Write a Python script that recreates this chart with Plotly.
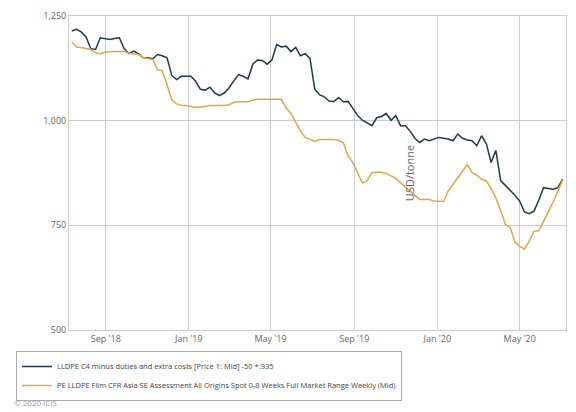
import pandas as pd
import plotly.graph_objects as go

# weekly price series, USD/tonne
dates = pd.date_range("2018-07-13", periods=104, freq="7D")

lldpe_c4 = [
    1214, 1218, 1212, 1200, 1172, 1170, 1198, 1196, 1194, 1196,
    1198, 1172, 1160, 1166, 1160, 1150, 1150, 1148, 1158, 1155,
    1150, 1108, 1098, 1106, 1106, 1106, 1094, 1075, 1073, 1080,
    1066, 1060, 1066, 1078, 1095, 1110, 1106, 1100, 1135, 1145,
    1144, 1135, 1145, 1182, 1176, 1178, 1165, 1175, 1155, 1160,
    1148, 1075, 1062, 1057, 1047, 1046, 1055, 1045, 1046, 1030,
    1012, 1001, 994, 988, 1007, 1010, 1017, 1001, 1012, 988,
    988, 975, 958, 948, 956, 952, 956, 960, 958, 956,
    952, 968, 958, 954, 952, 940, 964, 945, 900, 929,
    857, 845, 835, 822, 808, 782, 778, 784, 810, 840,
    838, 836, 840, 860,
]

pe_lldpe_film = [
    1188, 1176, 1175, 1173, 1170, 1162, 1160, 1164, 1165, 1165,
    1165, 1165, 1161, 1160, 1158, 1151, 1149, 1146, 1122, 1119,
    1085, 1050, 1040, 1037, 1036, 1034, 1032, 1032, 1034, 1036,
    1036, 1036, 1036, 1038, 1044, 1045, 1045, 1045, 1049, 1051,
    1051, 1051, 1051, 1051, 1051, 1030, 1018, 996, 975, 960,
    955, 951, 955, 955, 955, 955, 953, 947, 915, 900,
    875, 851, 857, 876, 877, 877, 874, 868, 862, 852,
    842, 832, 820, 812, 812, 812, 808, 807, 807, 832,
    848, 862, 878, 895, 876, 870, 860, 856, 838, 815,
    785, 752, 745, 710, 700, 693, 712, 736, 737, 758,
    782, 805, 830, 858,
]

names = [
    "LLDPE C4 minus duties and extra costs [Price 1: Mid] -50 *.935",
    "PE LLDPE Film CFR Asia SE Assessment All Origins Spot 0-8 Weeks Full Market Range Weekly (Mid)",
]

fig = go.Figure()
fig.add_trace(go.Scatter(x=dates, y=lldpe_c4, mode="lines", name=names[0],
                         line=dict(color="#1f3a44", width=1.5)))
fig.add_trace(go.Scatter(x=dates, y=pe_lldpe_film, mode="lines", name=names[1],
                         line=dict(color="#e0a64a", width=1.5)))

fig.update_layout(
    width=576, height=412,
    margin=dict(l=61, r=18, t=8, b=90, autoexpand=False),
    paper_bgcolor="white", plot_bgcolor="white",
    font=dict(family="Open Sans", size=9, color="#666"),
    showlegend=True,
    legend=dict(x=8 / 576, y=1 - 343 / 412, xref="container", yref="container",
                xanchor="left", yanchor="top",
                bordercolor="#aaa", borderwidth=1, font=dict(size=7.5, color="#444"),
                tracegroupgap=0, itemwidth=30),
    annotations=[dict(text="© 2020 ICIS", x=4 / 576, y=1 - 402 / 412,
                      xref="paper", yref="paper", showarrow=False,
                      xanchor="left", yanchor="bottom",
                      font=dict(size=8, color="#999"))],
)
# annotation placed in container coords
fig.layout.annotations[0].update(xref="paper", yref="paper",
                                 x=(4 - 61) / (576 - 79), y=(322 - 402) / 314)
fig.update_xaxes(
    range=["2018-07-09", "2020-07-08"], dtick="M4", tick0="2018-09-01",
    tickformat="%b '%y", showgrid=True, gridcolor="#ccc", gridwidth=1,
    showline=True, linecolor="#ccc", mirror=True, ticks="",
)
fig.update_yaxes(
    range=[500, 1250], dtick=250, tickformat=",", showgrid=True, gridcolor="#ccc",
    showline=True, linecolor="#ccc", mirror=True, zeroline=False,
    title=dict(text="USD/tonne", standoff=6), ticks="",
)

fig.write_html("out.html")
